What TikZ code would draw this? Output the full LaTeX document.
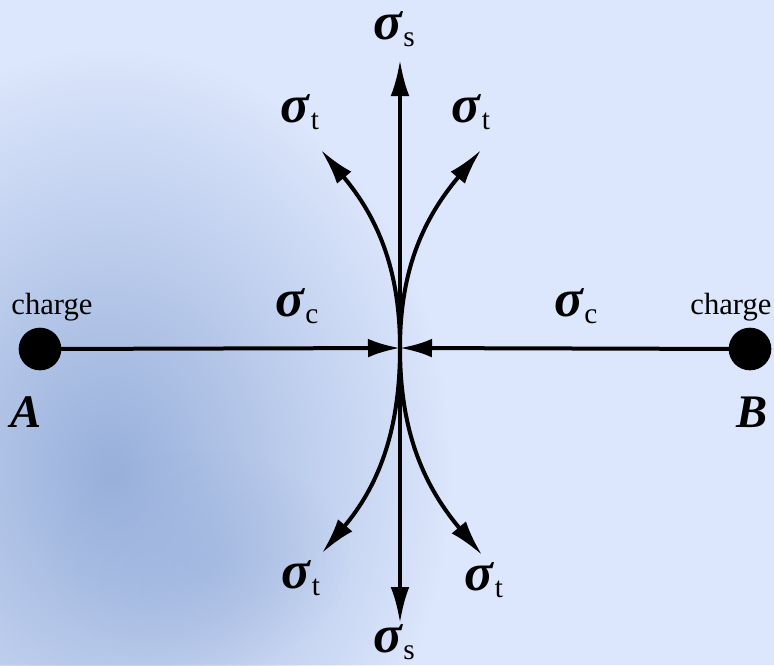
\documentclass[tikz,border=0pt]{standalone}
\usepackage{amsmath}
\usepackage{fontspec}
\setmainfont{Liberation Serif}
\usepackage{tikz}
\usetikzlibrary{arrows.meta, positioning, calc, fadings}

\newcommand{\sig}[1]{{\fontsize{40}{44}\selectfont\textbf{\textit{σ}}}\raisebox{-5pt}{\fontsize{22}{24}\selectfont #1}}
\tikzfading[name=borda, inner color=transparent!0, outer color=transparent!100]

\begin{document}
\begin{tikzpicture}[x=0.75pt, y=-0.75pt,
  stress/.style={line width=3pt, -{Latex[length=27pt, width=14pt]}},
  dot/.style={circle, fill=black, inner sep=0pt, minimum size=32pt},
  lbl/.style={inner sep=0pt},
  chg/.style={font=\fontsize{23}{26}\selectfont, inner sep=0pt},
  pt/.style={font=\fontsize{35}{38}\selectfont\bfseries\itshape, inner sep=0pt}]
% --- FUNDO ---
\definecolor{fundo}{HTML}{DCE6FC}
\definecolor{fundoEsc}{HTML}{98B0DB}
\fill[fundo] (0,0) rectangle (774,665);
\useasboundingbox (0,0) rectangle (774,665);
\begin{scope}
\clip (0,0) rectangle (774,665);
\fill[fundoEsc, path fading=borda] (110,470) ellipse (340 and 420);
\fill[fundoEsc, path fading=borda, opacity=0.5] (200,560) ellipse (150 and 110);
\end{scope}

% LAYER 1: cargas A e B
\coordinate (C) at (400,348);
\node[dot] (A) at (40,349) {};
\node[dot] (B) at (750,349) {};
\node[chg] (chA) at (52,307) {charge};
\node[chg] (chB) at (731,307) {charge};
\node[pt] (lA) at (26,412) {A};
\node[pt] (lB) at (752,412) {B};

% LAYER 2: compressao
\draw[stress, -{Latex[length=24pt, width=14pt]}] (A.center) -- (C);
\draw[stress, -{Latex[length=24pt, width=14pt]}] (B.center) -- (C);
\node[lbl] (scL) at (297,306) {\sig{c}};
\node[lbl] (scR) at (576,306) {\sig{c}};

% LAYER 3: tracao e cisalhamento
\coordinate (sUp) at (400,60);
\coordinate (sDn) at (400,623);
\coordinate (tUL) at (321,150);
\coordinate (tUR) at (481,150);
\coordinate (tDL) at (322,553);
\coordinate (tDR) at (482,555);
\draw[stress] (C) -- (sUp);
\draw[stress] (C) -- (sDn);
\draw[stress] (C) to[out=90, in=-50] (tUL);
\draw[stress] (C) to[out=90, in=-130] (tUR);
\draw[stress] (C) to[out=-90, in=50] (tDL);
\draw[stress] (C) to[out=-90, in=130] (tDR);
\node[lbl] (ssT) at (394,29) {\sig{s}};
\node[lbl] (ssB) at (394,642) {\sig{s}};
\node[lbl] (stUL) at (300,112) {\sig{t}};
\node[lbl] (stUR) at (471,112) {\sig{t}};
\node[lbl] (stDL) at (301,578) {\sig{t}};
\node[lbl] (stDR) at (484,580) {\sig{t}};
\end{tikzpicture}
\end{document}
